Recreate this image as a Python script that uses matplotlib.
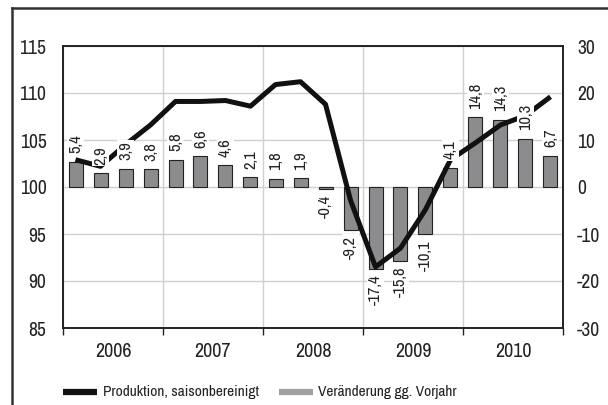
import matplotlib.pyplot as plt
from matplotlib import font_manager as fm
from matplotlib.lines import Line2D
from matplotlib.textpath import TextPath

# pick a narrow installed sans font
_fonts = fm.fontManager.ttflist
_names = {f.name for f in _fonts}
_cond = sorted(n for n in _names if ("Condensed" in n or "Narrow" in n)
               and "Extra" not in n and "Ultra" not in n)
stretch = "normal"
if "Liberation Sans Narrow" in _names:
    fam = "Liberation Sans Narrow"
elif _cond:
    fam = _cond[0]
elif any(f.name == "DejaVu Sans" and f.stretch == "condensed" for f in _fonts):
    fam, stretch = "DejaVu Sans", "condensed"
else:
    fam = "Roboto"
plt.rcParams['font.family'] = [fam, 'DejaVu Sans']
plt.rcParams['font.stretch'] = stretch
plt.rcParams['axes.unicode_minus'] = False
_fp = fm.FontProperties(family=fam, stretch=stretch)


def fit(s, px):
    # font size (pt) so that string s is about px pixels wide at 100 dpi
    w = TextPath((0, 0), s, size=10, prop=_fp).get_extents().width * 100 / 72
    return 10 * px / w


years = ["2006", "2007", "2008", "2009", "2010"]
# Veränderung gg. Vorjahr (%), quarterly
change = [5.4, 2.9, 3.9, 3.8, 5.8, 6.6, 4.6, 2.1, 1.8, 1.9, -0.4, -9.2,
          -17.4, -15.8, -10.1, 4.1, 14.8, 14.3, 10.3, 6.7]
# Produktion, saisonbereinigt (index), quarterly
production = [102.9, 102.2, 104.5, 106.6, 109.1, 109.1, 109.2, 108.6, 110.9, 111.2,
              108.8, 98.6, 91.5, 93.5, 97.6, 102.9, 104.7, 106.6, 107.6, 109.6]

fs_tick = fit("110", 25)
fs_year = fit("2006", 35)
fs_val = fit("14,8", 25)
fs_leg = fit("Produktion, saisonbereinigt", 154)

x = list(range(len(change)))
txt = "#222222"

fig = plt.figure(figsize=(6.08, 4.05), dpi=100)
ax2 = fig.add_axes([63 / 608, 1 - 328 / 405, 500 / 608, 282 / 405])
ax = ax2.twinx()
# left axis (line) drawn on top of the bar axis
ax.set_zorder(ax2.get_zorder() + 1)
ax.patch.set_visible(False)

# bars + grid on the right-hand axis
ax2.set_axisbelow(True)
ax2.bar(x, change, width=0.56, color="#8c8c8e", edgecolor="#222222", linewidth=0.8)
ax2.set_ylim(-30, 30)
ax2.set_yticks(range(-30, 31, 10))
ax2.grid(True, color="#d0d0d0", linewidth=1.0)
ax2.yaxis.tick_right()
ax2.tick_params(axis="y", length=0, pad=10, labelsize=fs_tick, labelcolor=txt)

# line on left axis
ax.yaxis.tick_left()
ax.plot(x, production, color="#111111", linewidth=3.6, solid_capstyle="butt", zorder=3)
ax.set_ylim(85, 115)
ax.set_yticks(range(85, 116, 5))
ax.tick_params(axis="y", length=0, pad=12, labelsize=fs_tick, labelcolor=txt)

# value labels with white background
for xi, v in zip(x, change):
    lab = f"{v:.1f}".replace(".", ",")
    off = 6 if v >= 0 else -4
    ax.annotate(lab, (xi, v), xycoords=ax2.transData, xytext=(0, off),
                textcoords="offset points", rotation=90, ha="center",
                va="bottom" if v >= 0 else "top", fontsize=fs_val, color=txt,
                bbox=dict(boxstyle="square,pad=0.08", fc="white", ec="none"), zorder=5)

# x axis: year boundaries as ticks, year names in between
ax2.set_xlim(-0.5, len(change) - 0.5)
ax2.set_xticks([-0.5 + 4 * i for i in range(6)])
ax2.set_xticklabels([])
ax2.set_xticks([1.5 + 4 * i for i in range(5)], minor=True)
ax2.set_xticklabels(years, minor=True)
ax2.tick_params(axis="x", which="major", direction="out", length=5, width=1, color="#222222")
ax2.tick_params(axis="x", which="minor", length=0, pad=10, labelsize=fs_year, labelcolor=txt)
ax2.grid(False, which="minor")

for a in (ax, ax2):
    for s in a.spines.values():
        s.set_color("#222222")
        s.set_linewidth(1.2)

# legend (drawn by hand to match the original placement)
ly = 1 - 392 / 405
fig.add_artist(Line2D([63 / 608, 97 / 608], [ly, ly], color="#111111", linewidth=4.5,
                      solid_capstyle="butt"))
fig.text(103 / 608, ly, "Produktion, saisonbereinigt", va="center", ha="left",
         fontsize=fs_leg, color=txt)
fig.add_artist(Line2D([279 / 608, 313 / 608], [ly, ly], color="#a0a0a0", linewidth=4.5,
                      solid_capstyle="butt"))
fig.text(318 / 608, ly, "Veränderung gg. Vorjahr", va="center", ha="left",
         fontsize=fs_leg, color=txt)

# outer frame (left and top)
fig.add_artist(Line2D([12 / 608, 12 / 608], [0, 1 - 8 / 405], color="#333333", linewidth=1.8))
fig.add_artist(Line2D([12 / 608, 1], [1 - 8 / 405, 1 - 8 / 405], color="#333333", linewidth=1.8))

fig.savefig("out.png", dpi=100)
